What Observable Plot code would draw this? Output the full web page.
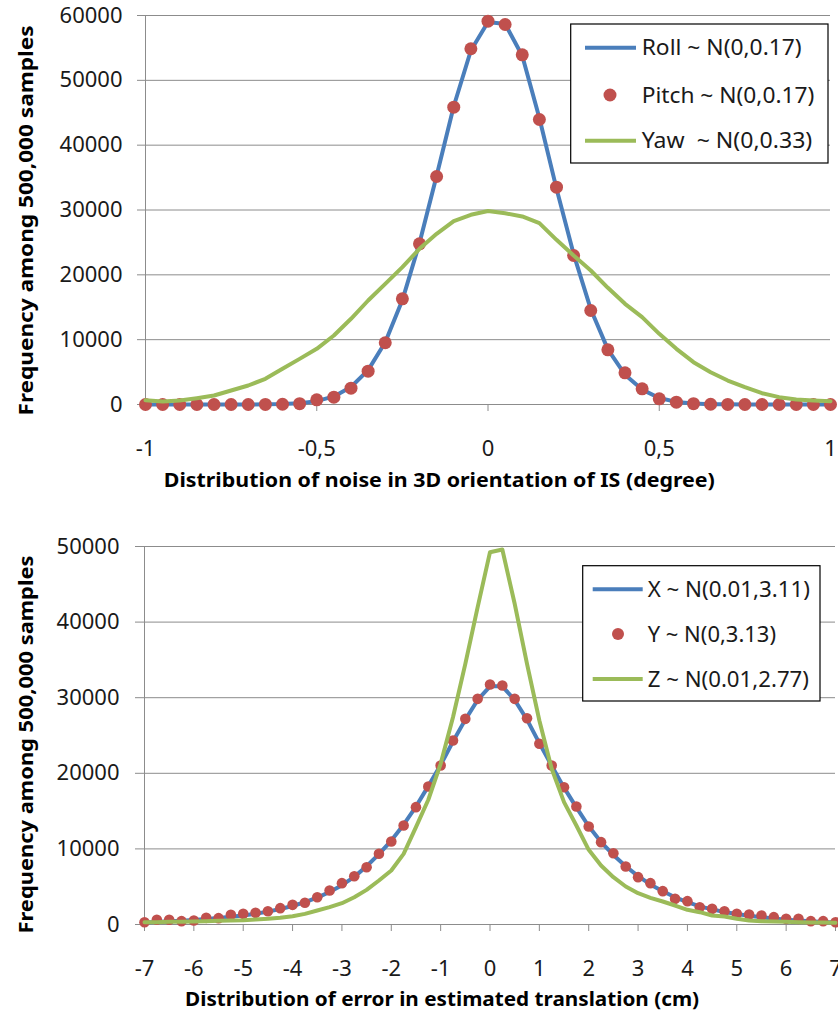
<!DOCTYPE html>
<html><head><meta charset="utf-8">
<script src="https://cdn.jsdelivr.net/npm/d3@7"></script>
<script src="https://cdn.jsdelivr.net/npm/@observablehq/plot@0.6"></script>
<style>body{margin:0;background:#fff;} #c svg{display:block;}</style>
</head><body><div id="c"></div>
<script>
// ---------- Top chart: orientation noise ----------
const orientX = [-1,-0.95,-0.9,-0.85,-0.8,-0.75,-0.7,-0.65,-0.6,-0.55,-0.5,-0.45,-0.4,-0.35,-0.3,-0.25,-0.2,-0.15,-0.1,-0.05,0,0.05,0.1,0.15,0.2,0.25,0.3,0.35,0.4,0.45,0.5,0.55,0.6,0.65,0.7,0.75,0.8,0.85,0.9,0.95,1];
const roll  = [0,0,0,0,0,0,10,20,60,200,520,1250,2700,5300,9600,16100,24900,35300,46000,54600,59000,58700,53800,44200,33300,23200,14700,8500,4600,2300,1000,400,150,50,20,0,0,0,0,0,0];
const pitch = [0,0,0,0,0,0,0,10,40,130,720,1130,2520,5140,9520,16300,24780,35170,45860,54870,59120,58610,53940,43960,33520,22980,14500,8440,4890,2420,880,360,130,40,10,0,0,0,0,0,0];
const yaw   = [650,460,620,980,1390,2160,2930,3960,5500,7040,8590,10640,13220,16040,18610,21180,24020,26330,28280,29260,29850,29500,29000,27970,25400,22980,20670,18000,15530,13470,10900,8590,6530,4980,3700,2670,1740,1130,770,620,510];
const orientXTicks = [-1,-0.5,0,0.5,1];
const orientYTicks = [0,10000,20000,30000,40000,50000,60000];
const orientLegend = ["Roll ~ N(0,0.17)", "Pitch ~ N(0,0.17)", "Yaw  ~ N(0,0.33)"];
const orientXTitle = "Distribution of noise in 3D orientation of IS (degree)";

// ---------- Bottom chart: translation error ----------
const transX = [-7,-6.75,-6.5,-6.25,-6,-5.75,-5.5,-5.25,-5,-4.75,-4.5,-4.25,-4,-3.75,-3.5,-3.25,-3,-2.75,-2.5,-2.25,-2,-1.75,-1.5,-1.25,-1,-0.75,-0.5,-0.25,0,0.25,0.5,0.75,1,1.25,1.5,1.75,2,2.25,2.5,2.75,3,3.25,3.5,3.75,4,4.25,4.5,4.75,5,5.25,5.5,5.75,6,6.25,6.5,6.75,7];
const errX = [250,330,420,500,600,720,860,1020,1200,1420,1700,2050,2450,2950,3550,4300,5200,6300,7700,9300,11100,13200,15600,18300,21100,24200,27100,29700,31500,31500,29700,27100,24000,21000,18100,15500,13000,10900,9200,7700,6400,5300,4400,3600,2950,2400,2000,1650,1380,1150,950,780,640,520,420,340,280];
const errY = [300,620,620,440,530,880,840,1280,1410,1540,1760,2160,2600,2870,3610,4500,5470,6390,7580,9350,10980,13100,15520,18250,21030,24340,27200,29850,31750,31610,29850,27290,23900,21030,18160,15610,12960,10890,9430,7670,6260,5470,4410,3390,3090,2290,2070,1760,1410,1320,1190,970,750,750,440,440,300];
const errZ = [300,300,350,350,400,440,480,530,570,660,750,880,1100,1410,1850,2290,2820,3610,4580,5820,7140,9350,12870,16500,21250,27420,34480,41980,49250,49600,42420,34480,26980,20600,16180,13100,9880,7800,6260,5030,4140,3530,3040,2510,1940,1630,1190,1060,750,530,420,400,350,300,280,250,230];
const transXTicks = [-7,-6,-5,-4,-3,-2,-1,0,1,2,3,4,5,6,7];
const transYTicks = [0,10000,20000,30000,40000,50000];
const transLegend = ["X ~ N(0.01,3.11)", "Y ~ N(0,3.13)", "Z ~ N(0.01,2.77)"];
const transXTitle = "Distribution of error in estimated translation (cm)";

const yTitle = "Frequency among 500,000 samples";

const BLUE = "#4A7EBB", RED = "#C0504D", GREEN = "#9BBB59", GRID = "#8c8c8c", INK = "#1a1a1a";

const rows = (xs, ys) => xs.map((x, i) => ({x, y: ys[i]}));
const fmtComma = d => String(d).replace(".", ",");

function chart(o) {
  const svg = Plot.plot({
    width: 838, height: o.height,
    marginLeft: o.ml, marginRight: o.mr, marginTop: o.mt, marginBottom: o.mb,
    style: {background: "white", fontFamily: "'Noto Sans', sans-serif", fontSize: "22px", color: INK, overflow: "visible"},
    x: {domain: o.xDomain},
    y: {domain: [0, o.yMax]},
    marks: [
      Plot.gridY(o.yTicks, {stroke: GRID, strokeOpacity: 1, strokeWidth: 1}),
      Plot.ruleX([o.xDomain[0]], {stroke: GRID, strokeWidth: 1}),
      Plot.axisY(o.yTicks, {tickSize: o.yTickSize, tickPadding: o.yPad, stroke: GRID, fill: INK, label: null, tickFormat: d => String(d)}),
      Plot.axisX(o.xTicks, {tickSize: 7, tickPadding: o.xPad, stroke: GRID, fill: INK, label: null, tickFormat: o.fmt}),
      Plot.line(rows(o.xs, o.a), {x: "x", y: "y", stroke: BLUE, strokeWidth: 4}),
      Plot.dot(rows(o.xs, o.b), {x: "x", y: "y", r: o.r, fill: RED, stroke: "none"}),
      Plot.line(rows(o.xs, o.c), {x: "x", y: "y", stroke: GREEN, strokeWidth: 4}),
      Plot.text([o.xTitle], {frameAnchor: "bottom", textAnchor: "middle", dx: o.xtDx, dy: o.xtDy, fontWeight: "bold", fontSize: 19, fill: "#000"}),
      Plot.text([yTitle], {frameAnchor: "left", textAnchor: "middle", rotate: -90, dx: o.ytDx, dy: o.ytDy, fontWeight: "bold", fontSize: 19, fill: "#000"})
    ]
  });
  const s = d3.select(svg);
  s.selectAll("text").filter(function() { return this.textContent === o.xTitle; })
    .attr("textLength", o.xtLen).attr("lengthAdjust", "spacingAndGlyphs");
  s.selectAll("text").filter(function() { return this.textContent === yTitle; })
    .attr("textLength", o.ytLen).attr("lengthAdjust", "spacingAndGlyphs");
  // legend
  const L = o.legend;
  const g = s.append("g").attr("font-family", "'Noto Sans', sans-serif").attr("font-size", 21).attr("text-anchor", "start");
  g.append("rect").attr("x", L.x0).attr("y", L.y0).attr("width", L.x1 - L.x0).attr("height", L.y1 - L.y0)
    .attr("fill", "white").attr("stroke", "#000").attr("stroke-width", 1.2);
  const kinds = [["line", BLUE], ["dot", RED], ["line", GREEN]];
  o.labels.forEach((lab, i) => {
    const [k, col] = kinds[i];
    const cy = L.ys[i];
    if (k === "line") g.append("line").attr("x1", L.lx0).attr("x2", L.lx1).attr("y1", cy).attr("y2", cy).attr("stroke", col).attr("stroke-width", 4);
    else g.append("circle").attr("cx", L.dx).attr("cy", cy).attr("r", L.r).attr("fill", col);
    g.append("text").attr("x", L.tx).attr("y", cy).attr("dy", "0.36em").attr("fill", INK).attr("text-anchor", "start")
      .style("white-space", "pre").attr("textLength", L.lens[i]).attr("lengthAdjust", "spacingAndGlyphs").text(lab);
  });
  return svg;
}

const c = document.getElementById("c");
c.appendChild(chart({
  height: 520, ml: 145, mr: 8, mt: 15, mb: 116,
  xDomain: [-1, 1], xTicks: orientXTicks, yMax: 60000, yTicks: orientYTicks,
  yTickSize: 8, yPad: 15, xPad: 29, fmt: fmtComma,
  xs: orientX, a: roll, b: pitch, c: yaw, r: 6.5,
  xTitle: orientXTitle, xtDx: -48.7, xtDy: 82, xtLen: 551,
  ytDx: -119, ytDy: 10.5, ytLen: 390,
  labels: orientLegend,
  legend: {x0: 570.7, y0: 24, x1: 828, y1: 163, lx0: 585, lx1: 636, dx: 610, r: 6.5, tx: 641.7, ys: [47.7, 95, 140.7], lens: [160, 172.6, 170.6]}
}));
c.appendChild(chart({
  height: 499, ml: 144, mr: 3, mt: 26, mb: 95,
  xDomain: [-7, 7], xTicks: transXTicks, yMax: 50000, yTicks: transYTicks,
  yTickSize: 9, yPad: 16, xPad: 29, fmt: fmtComma,
  xs: transX, a: errX, b: errY, c: errZ, r: 5.3,
  xTitle: transXTitle, xtDx: -47.9, xtDy: 81, xtLen: 514,
  ytDx: -118, ytDy: 9, ytLen: 378,
  labels: transLegend,
  legend: {x0: 582.7, y0: 45.7, x1: 820, y1: 181, lx0: 592.7, lx1: 642.7, dx: 618, r: 6, tx: 647.7, ys: [69.3, 114, 159], lens: [162.3, 128.3, 161.3]}
}));
</script>
</body></html>
